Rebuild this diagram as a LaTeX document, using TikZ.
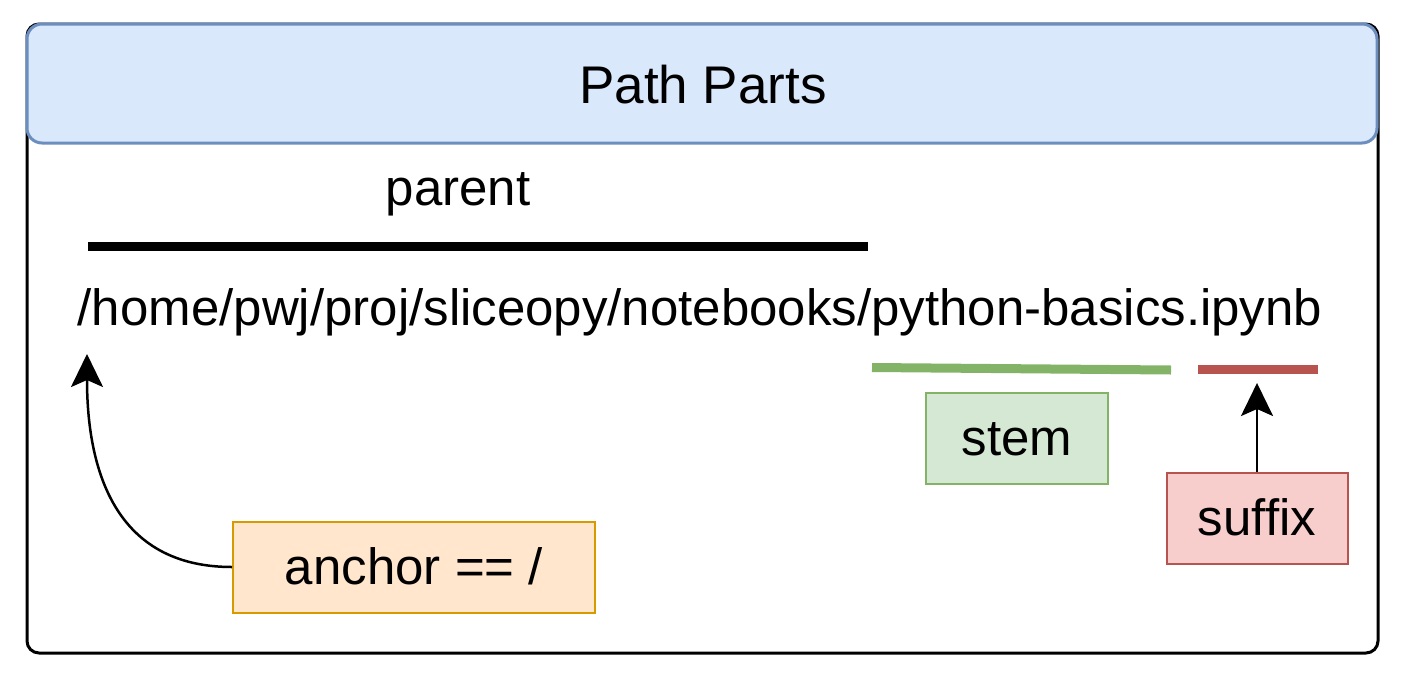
\documentclass[tikz,border=0pt]{standalone}
\usepackage{fontspec}
\setmainfont{Liberation Sans}
\usepackage{xcolor}
\usetikzlibrary{arrows.meta,positioning}
\definecolor{headfill}{HTML}{DAE8FC}
\definecolor{headline}{HTML}{6C8EBF}
\definecolor{stemfill}{HTML}{D5E8D4}
\definecolor{stemline}{HTML}{82B366}
\definecolor{suffixfill}{HTML}{F8CECC}
\definecolor{suffixline}{HTML}{B85450}
\definecolor{anchorfill}{HTML}{FFE6CC}
\definecolor{anchorline}{HTML}{D79B00}

\begin{document}
\begin{tikzpicture}[
  x=0.5pt,y=-0.5pt,
  font=\fontsize{25.5}{30}\selectfont,
  n/.style={rectangle,draw,line width=1pt,minimum height=45.5pt,inner sep=0pt,align=center,
    text height=24.2pt,text depth=6.4pt},
  bar/.style={line width=4.5pt},
  a/.style={-{Stealth[length=16.5pt,width=16pt,inset=3.5pt]},line width=1.25pt}
]
\useasboundingbox (0,0) rectangle (1406,680);

% frame with header
\draw[line width=1.5pt,rounded corners=6pt] (27,24) rectangle (1378,653);
\draw[line width=1.5pt,draw=headline,fill=headfill,rounded corners=7.5pt] (27,24) rectangle (1377,143);
\node[anchor=base,font=\fontsize{26.5}{31}\selectfont] (title) at (703,103) {Path Parts};

% path and its parts
\node[anchor=base] (path) at (700,325) {/home/pwj/proj/sliceopy/notebooks/python-basics.ipynb};
\node[anchor=base] (parent) at (458,205) {parent};
\draw[bar] (88,246.5) -- (868,246.5);
\draw[bar,stemline] (872,367.5) -- (1171,370);
\draw[bar,suffixline] (1198,369) -- (1318,369);

\node[n,fill=stemfill,draw=stemline,minimum width=91pt] (stem) at (1017,438) {stem};
\node[n,fill=suffixfill,draw=suffixline,minimum width=90.5pt] (suffix) at (1257,518) {suffix};
\node[n,fill=anchorfill,draw=anchorline,minimum width=181pt] (anchor) at (414,567) {anchor == /};

\coordinate (suffixtip) at (1257,383);
\coordinate (anchortip) at (87,354);

\draw[a] (suffix.north) -- (suffixtip);
\draw[a] (anchor.west) .. controls (115,567) and (87,470) .. (anchortip);
\end{tikzpicture}
\end{document}
